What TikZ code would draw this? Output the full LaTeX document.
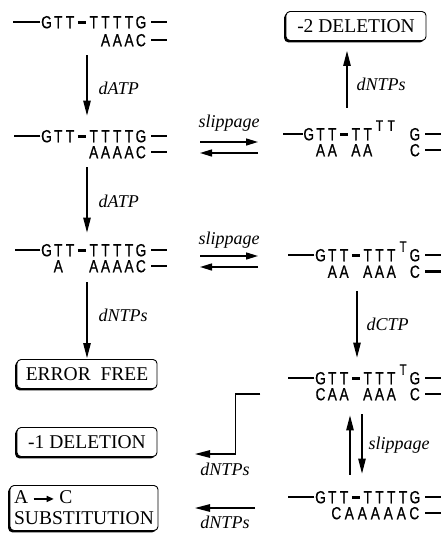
\documentclass[tikz,border=0pt]{standalone}
\usepackage{fontspec}
\setmainfont{Liberation Serif}
\newfontfamily\seqfont[FakeStretch=0.78,FakeBold=0.6]{Liberation Sans}
\usepackage{tikz}
\usetikzlibrary{arrows.meta,positioning,shadows}
\newlength\cellw
\setlength\cellw{11.8pt}
\newcommand\nt[1]{\makebox[\cellw]{#1}}
\newcommand\nx{\makebox[\cellw]{}}
\newcommand\bond{\makebox[\cellw]{\rule[4.6pt]{8pt}{3pt}}}
\newcommand\loopnt[1]{\makebox[\cellw]{\raisebox{9.5pt}{\fontsize{15}{15}\selectfont #1}}}
\tikzset{
  strand/.style={inner sep=0pt,text height=12.5pt,text depth=0pt,anchor=east,
    font=\seqfont\fontsize{17.5}{17.5}\selectfont},
  backbone/.style={line width=2.6pt},
  arrow/.style={-{Triangle[length=15pt,width=7.5pt]},line width=1.2pt},
  slip/.style={-{Triangle[length=12pt,width=7pt]},line width=1.5pt},
  enzyme/.style={font=\itshape\fontsize{18}{18}\selectfont,inner sep=1pt},
  outcome/.style={draw,line width=0.9pt,rounded corners=4pt,fill=white,
    minimum width=140pt,minimum height=29pt,inner sep=4pt,
    font=\fontsize{19.5}{21}\selectfont,
    drop shadow={shadow xshift=-1.8pt,shadow yshift=-1.8pt,fill=black,opacity=1}}
}
\begin{document}
\begin{tikzpicture}[x=1pt,y=-1pt]
\useasboundingbox (0,0) rectangle (442,533);
% left column
\node[strand] (l1t) at (147,22) {\nt{G}\nt{T}\nt{T}\bond\nt{T}\nt{T}\nt{T}\nt{T}\nt{G}};
\node[strand] (l1b) at (147,40) {\nt{A}\nt{A}\nt{A}\nt{C}};
\node[strand] (l2t) at (147,136) {\nt{G}\nt{T}\nt{T}\bond\nt{T}\nt{T}\nt{T}\nt{T}\nt{G}};
\node[strand] (l2b) at (147,152) {\nt{A}\nt{A}\nt{A}\nt{A}\nt{C}};
\node[strand] (l3t) at (147,250) {\nt{G}\nt{T}\nt{T}\bond\nt{T}\nt{T}\nt{T}\nt{T}\nt{G}};
\node[strand] (l3b) at (147,266) {\nt{A}\nx\nx\nt{A}\nt{A}\nt{A}\nt{A}\nt{C}};
\node[outcome] (ok) at (87,374) {ERROR\enspace FREE};
\node[outcome] (del1) at (87,442) {-1 DELETION};
\node[outcome,minimum width=148pt,minimum height=45pt,align=left] (subst) at (84,508)
  {A \tikz[baseline=-0.55ex]\draw[-{Triangle[length=7pt,width=6pt]},line width=1.3pt] (0pt,0pt) -- (20pt,0pt); C\\SUBSTITUTION};
% right column
\node[outcome] (del2) at (356,26) {-2 DELETION};
\node[strand] (r2t) at (421,134) {\nt{G}\nt{T}\nt{T}\bond\nt{T}\nt{T}\loopnt{T}\loopnt{T}\nx\nt{G}};
\node[strand] (r2b) at (421,150) {\nt{A}\nt{A}\nx\nt{A}\nt{A}\nx\nx\nx\nt{C}};
\node[strand] (r3t) at (421,255) {\nt{G}\nt{T}\nt{T}\bond\nt{T}\nt{T}\nt{T}\loopnt{T}\nt{G}};
\node[strand] (r3b) at (421,271.5) {\nt{A}\nt{A}\nx\nt{A}\nt{A}\nt{A}\nx\nt{C}};
\node[strand] (r4t) at (421,378) {\nt{G}\nt{T}\nt{T}\bond\nt{T}\nt{T}\nt{T}\loopnt{T}\nt{G}};
\node[strand] (r4b) at (421,394) {\nt{C}\nt{A}\nt{A}\nx\nt{A}\nt{A}\nt{A}\nx\nt{C}};
\node[strand] (r5t) at (421,497) {\nt{G}\nt{T}\nt{T}\bond\nt{T}\nt{T}\nt{T}\nt{T}\nt{G}};
\node[strand] (r5b) at (421,513) {\setlength\cellw{13pt}\nt{C}\nt{A}\nt{A}\nt{A}\nt{A}\nt{A}\nt{C}};
% backbones
\foreach \s/\len in {l1t/27,l2t/26,l3t/25,r2t/20,r3t/26,r4t/26,r5t/26}
  \draw[backbone] (\s.west) -- ++(-\len,0);
\foreach \s in {l1t,l1b,l2t,l2b,l3t,l3b,r2t,r2b,r3t,r3b,r4t,r4b,r5t,r5b}
  \draw[backbone] ([xshift=4pt]\s.east) -- ++(16,0);
% polymerase steps
\coordinate (lcol) at (87,0);
\draw[arrow,shorten <=9pt,shorten >=14pt] (l1b.south -| lcol) -- (l2t.north -| lcol)
  node[enzyme,midway,right=10pt] (e1) {dATP};
\draw[arrow,shorten <=9pt,shorten >=11pt] (l2b.south -| lcol) -- (l3t.north -| lcol)
  node[enzyme,midway,right=10pt] (e2) {dATP};
\draw[arrow,shorten <=10pt,shorten >=1pt] (l3b.south -| lcol) -- (ok.north -| lcol)
  node[enzyme,midway,right=10pt] (e3) {dNTPs};
\coordinate (rcol) at (347,0);
\draw[arrow,shorten <=20pt,shorten >=10pt] (r2t.north -| rcol) -- (del2.south -| rcol)
  node[enzyme,midway,right=8pt] (e4) {dNTPs};
\coordinate (ccol) at (357,0);
\draw[arrow,shorten <=13pt,shorten >=14pt] (r3b.south -| ccol) -- (r4t.north -| ccol)
  node[enzyme,midway,right=8pt] (e5) {dCTP};
% slippage
\coordinate (slip1) at (229,147);
\coordinate (slip2) at (229,261);
\foreach \c in {slip1,slip2} {
  \draw[slip] ([shift={(-29,-5)}]\c) -- ([shift={(29,-5)}]\c);
  \draw[slip] ([shift={(29,6)}]\c) -- ([shift={(-29,6)}]\c);
}
\node[enzyme] (s1) at (229,123) {slippage};
\node[enzyme] (s2) at (229,240) {slippage};
\coordinate (upx) at (350,0);
\coordinate (dnx) at (362,0);
\draw[arrow,shorten <=16pt,shorten >=15pt] (r5t.north -| upx) -- (r4b.south -| upx);
\draw[arrow,shorten <=14pt,shorten >=17pt] (r4b.south -| dnx) -- (r5t.north -| dnx)
  node[enzyme,midway,right=5pt] (s3) {slippage};
% to the outcomes
\coordinate (dn1tip) at (195,454);
\coordinate (dn2tip) at (195,508);
\draw[arrow] ([xshift=-54pt]r4b.west) -- ++(-25,0) |- (dn1tip);
\draw[arrow] ([xshift=60pt]dn2tip) -- (dn2tip);
\node[enzyme] (e6) at (225,469) {dNTPs};
\node[enzyme] (e7) at (225,522) {dNTPs};
\end{tikzpicture}
\end{document}
